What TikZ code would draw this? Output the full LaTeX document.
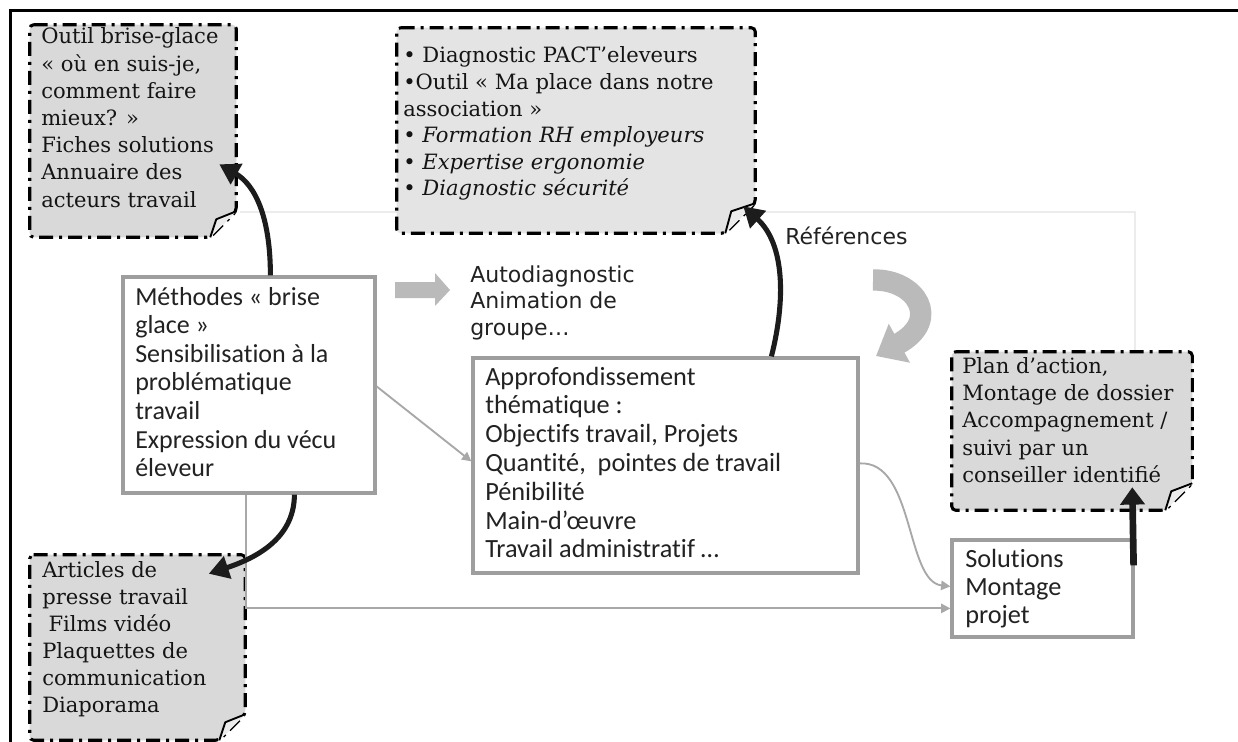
\documentclass[tikz,border=0pt]{standalone}
\usepackage{fontspec}
\setmainfont{DejaVu Serif}
\newfontfamily\sansf[Ligatures=NoCommon]{Carlito}
\newfontfamily\handf{DejaVu Sans}
\usetikzlibrary{arrows.meta,calc,fit}
\definecolor{bxborder}{RGB}{158,158,158}
\definecolor{conn}{RGB}{168,168,168}
\definecolor{blockarr}{RGB}{186,186,186}
\definecolor{notefill}{RGB}{217,217,217}
\definecolor{notefillb}{RGB}{228,228,228}
\definecolor{foldfill}{RGB}{236,236,236}
\definecolor{txtcol}{RGB}{20,20,20}
\definecolor{sanscol}{RGB}{34,34,34}
\definecolor{arrblack}{RGB}{28,28,28}
\definecolor{faint}{RGB}{236,236,236}
\newcommand\notebox[3]{%
  \draw[dbox, fill=#3] (#1.north west) -- (#1.north east) -- ($(#1.south east)+(0,-#2)$) -- ($(#1.south east)+(-#2,0)$) -- (#1.south west) -- cycle;
  \draw[foldst] ($(#1.south east)+(-#2,0)$) -- ($(#1.south east)+(-#2+6,-#2+8)$) -- ($(#1.south east)+(0,-#2)$);}
\begin{document}
\begin{tikzpicture}[x=0.75pt,y=-0.75pt,
  region/.style={inner sep=0pt, draw=none},
  gbox/.style={draw=bxborder, line width=2.4pt, fill=white},
  dbox/.style={draw=black, line width=2.3pt, dash pattern=on 10.5pt off 4.5pt on 2.25pt off 4.5pt, rounded corners=3pt},
  foldst/.style={draw=black, line width=1.4pt, fill=foldfill, line join=round},
  txt/.style={inner sep=0pt, anchor=base west, text=txtcol},
  stxt/.style={inner sep=0pt, anchor=base west, text=sanscol},
  bkarrow/.style={draw=arrblack, line width=3.8pt, -{Triangle[width=17pt,length=15pt]}},
  thinarrow/.style={draw=conn, line width=1.4pt, -{Triangle[width=7pt,length=7pt]}},
]
\useasboundingbox (0,0) rectangle (1238,742);
\fill[white] (0,0) rectangle (1238,742);
% frame
\draw[line width=2.25pt] (10,742) -- (10,11) -- (1238,11);
% faint slide outline
\draw[faint, line width=1pt] (240,212) -- (1135,212) -- (1135,350);

% regions
\node[region, fit={(30,25) (236,237)}] (A) {};
\node[region, fit={(397,28) (755,233)}] (B) {};
\node[region, fit={(952,352) (1192,510)}] (C) {};
\node[region, fit={(30,555) (245,740)}] (D) {};
\node[region, gbox, fit={(123,277) (375,493)}] (meth) {};
\node[region, gbox, fit={(473,358) (858,573)}] (appr) {};
\node[region, gbox, fit={(952,540) (1133,637)}] (sol) {};

\notebox{A}{26}{notefill}
\notebox{B}{30}{notefillb}
\notebox{C}{27}{notefill}
\notebox{D}{26}{notefill}

% serif texts
\node[txt] (Atext) at (41,44) {\parbox[t]{300pt}{\fontsize{15.8pt}{20.4pt}\selectfont\raggedright
Outil brise-glace\\« où en suis-je,\\comment faire\\mieux? »\\Fiches solutions\\Annuaire des\\acteurs travail}};
\node[txt] (Btext) at (403,63) {\parbox[t]{400pt}{\fontsize{15.8pt}{19.9pt}\selectfont\raggedright
• Diagnostic PACT'eleveurs\\•Outil « Ma place dans notre\\association »\\• \textit{Formation RH employeurs}\\• \textit{Expertise ergonomie}\\• \textit{Diagnostic sécurité}}};
\node[txt] (Ctext) at (962,373) {\parbox[t]{300pt}{\fontsize{15.8pt}{20.6pt}\selectfont\raggedright
Plan d'action,\\Montage de dossier\\Accompagnement /\\suivi par un\\conseiller identifié}};
\node[txt] (Dtext) at (42,577) {\parbox[t]{300pt}{\fontsize{15.8pt}{20.25pt}\selectfont\raggedright
Articles de\\presse travail\\\hspace*{0.3em}Films vidéo\\Plaquettes de\\communication\\Diaporama}};

% sans texts
\node[stxt] (methtext) at (135,305) {\parbox[t]{300pt}{\sansf\fontsize{19.5pt}{21.45pt}\selectfont\raggedright
Méthodes « brise\\glace »\\Sensibilisation à la\\problématique\\travail\\Expression du vécu\\éleveur}};
\node[stxt] (apprtext) at (485,385) {\parbox[t]{400pt}{\sansf\fontsize{19.7pt}{21.6pt}\selectfont\raggedright
Approfondissement\\thématique :\\Objectifs travail, Projets\\Quantité,\ \ pointes de travail\\Pénibilité\\Main-d’œuvre\\Travail administratif …}};
\node[stxt] (soltext) at (965,567) {\parbox[t]{300pt}{\sansf\fontsize{19.7pt}{21pt}\selectfont\raggedright
Solutions\\Montage\\projet}};

% hand labels
\node[stxt] (auto) at (470,282) {\parbox[t]{300pt}{\handf\fontsize{16.5pt}{19.9pt}\selectfont\raggedright
Autodiagnostic\\Animation de\\groupe…}};
\node[stxt] (refs) at (785,244) {\handf\fontsize{16.5pt}{19.9pt}\selectfont Références};

% block arrows
\fill[blockarr] (395,282) -- (435,282) -- (435,273) -- (450,290) -- (435,306) -- (435,298) -- (395,298) -- cycle;
\draw[draw=blockarr, line width=16pt, -{Triangle[width=32pt,length=20pt]}] (873,280) .. controls (916,279) and (942,320) .. (876,356);

% thin connectors
\draw[thinarrow] ($(meth.north east)+(0,111)$) -- ($(appr.north west)+(0,105)$);
\draw[thinarrow] ($(meth.south west)+(125,0)$) |- ($(sol.north west)+(0,70)$);
\draw[thinarrow] ($(appr.north east)+(0,107)$) .. controls +(55,-3) and +(-45,-5) .. ($(sol.north west)+(0,48)$);

% black arrows
\draw[bkarrow] ($(meth.north west)+(149,0)$) .. controls +(0,-60) and +(35,20) .. ($(A.south east)+(-17,-73)$);
\draw[bkarrow] ($(meth.south west)+(173,0)$) .. controls +(0,45) and +(45,-15) .. ($(D.north west)+(179,19)$);
\draw[bkarrow] ($(appr.north west)+(300,0)$) .. controls +(14,-55) and +(42,38) .. ($(B.south east)+(-12,-27)$);
\draw[draw=arrblack, line width=5pt, -{Triangle[width=18pt,length=13pt]}] ($(sol.north east)+(-1,27)$) -- ($(C.south east)+(-60,-23)$);
\end{tikzpicture}
\end{document}
